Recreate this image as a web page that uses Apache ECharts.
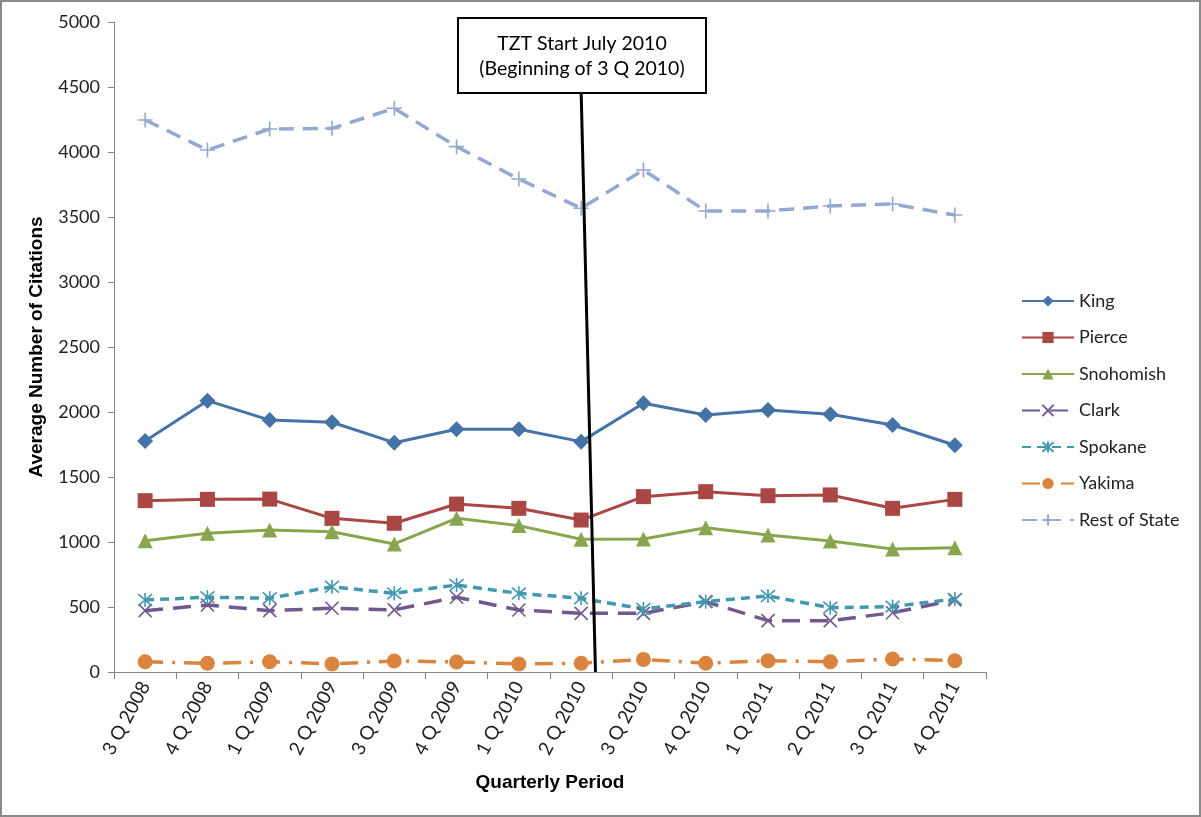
<!DOCTYPE html>
<html>
<head>
<meta charset="utf-8">
<script src="https://cdn.jsdelivr.net/npm/echarts@6/dist/echarts.min.js"></script>
<style>
  html, body { margin: 0; padding: 0; background: #fff; }
  .wrap { position: relative; width: 1201px; height: 817px; }
  #chart { width: 1201px; height: 817px; }
  .frame { position: absolute; left: 0; top: 0; width: 1201px; height: 817px; box-sizing: border-box; border: 2px solid #8a8a8a; pointer-events: none; }
</style>
</head>
<body>
<div class="wrap">
  <div id="chart"></div>
  <div class="frame"></div>
</div>
<script>
const quarters = ['3 Q 2008', '4 Q 2008', '1 Q 2009', '2 Q 2009', '3 Q 2009', '4 Q 2009', '1 Q 2010',
  '2 Q 2010', '3 Q 2010', '4 Q 2010', '1 Q 2011', '2 Q 2011', '3 Q 2011', '4 Q 2011']
const king = [1777, 2087, 1938, 1921, 1764, 1867, 1867, 1772, 2067, 1977, 2015, 1982, 1900, 1744]
const pierce = [1318, 1328, 1330, 1182, 1144, 1292, 1259, 1169, 1349, 1387, 1356, 1362, 1259, 1328]
const snohomish = [1010, 1067, 1092, 1079, 985, 1182, 1126, 1021, 1023, 1110, 1054, 1008, 946, 956]
const clark = [472, 515, 472, 490, 478, 575, 477, 451, 451, 541, 395, 395, 456, 554]
const spokane = [554, 575, 567, 656, 605, 669, 605, 567, 485, 541, 585, 495, 503, 562]
const yakima = [79, 67, 79, 62, 85, 77, 62, 67, 97, 67, 87, 79, 100, 87]
const restOfState = [4246, 4015, 4177, 4182, 4336, 4041, 3792, 3567, 3862, 3546, 3546, 3585, 3600, 3515]
const yTicks = { min: 0, max: 5000, interval: 500 }
// annotation line: from the box down to the axis (x as category index)
const tztLine = [[7, 4462], [7.23, 0]]
const tztText = 'TZT Start July 2010\n(Beginning of 3 Q 2010)'

const font = 'Lato, "Open Sans", sans-serif'
const boldFont = '"Liberation Sans", Arial, sans-serif'
const symX = 'path://M0,0L10,10M10,0L0,10'
const symStar = 'path://M0,0L10,10M10,0L0,10M5,-1L5,11'
const symPlus = 'path://M5,0L5,10M0,5L10,5'

function lineSeries(name, data, color, opts) {
  return Object.assign({
    name: name,
    type: 'line',
    data: data,
    symbolSize: 14,
    color: color,
    lineStyle: { color: color, width: 3 },
    itemStyle: { color: color },
    z: 3
  }, opts)
}

const myChart = echarts.init(document.getElementById('chart'))
myChart.setOption({
  animation: false,
  textStyle: { fontFamily: font },
  grid: { left: 114, right: 215, top: 22, bottom: 145 },
  legend: {
    orient: 'vertical',
    left: 1016,
    top: 287,
    itemWidth: 52,
    itemHeight: 14,
    itemGap: 18.5,
    textStyle: { fontSize: 18, color: '#222', fontFamily: font },
    data: ['King', 'Pierce', 'Snohomish', 'Clark', 'Spokane', 'Yakima', 'Rest of State']
  },
  xAxis: [{
    type: 'category',
    data: quarters,
    boundaryGap: true,
    name: 'Quarterly Period',
    nameLocation: 'middle',
    nameGap: 101,
    nameTextStyle: { fontFamily: boldFont, fontWeight: 'bold', fontSize: 19, color: '#000' },
    axisLine: { lineStyle: { color: '#868686', width: 1 } },
    axisTick: { show: true, length: 7, lineStyle: { color: '#868686' } },
    axisLabel: { rotate: 62, fontSize: 19, color: '#222', margin: 11, interval: 0 },
    splitLine: { show: false }
  }, {
    type: 'value',
    min: -0.5,
    max: 13.5,
    show: false
  }],
  yAxis: {
    type: 'value',
    min: yTicks.min,
    max: yTicks.max,
    interval: yTicks.interval,
    name: 'Average Number of Citations',
    nameLocation: 'middle',
    nameGap: 68,
    nameTextStyle: { fontFamily: boldFont, fontWeight: 'bold', fontSize: 19, color: '#000' },
    axisLine: { show: true, onZero: false, lineStyle: { color: '#868686', width: 1 } },
    axisTick: { show: true, length: 6, lineStyle: { color: '#868686' } },
    axisLabel: { fontSize: 18, color: '#222', margin: 14, formatter: function(v) { return String(v) } },
    splitLine: { show: false }
  },
  series: [
    lineSeries('King', king, '#4572A7', { symbol: 'diamond', symbolSize: 16 }),
    lineSeries('Pierce', pierce, '#AA4643', { symbol: 'rect', symbolSize: 15 }),
    lineSeries('Snohomish', snohomish, '#89A54E', { symbol: 'triangle', symbolSize: 15 }),
    lineSeries('Clark', clark, '#71588F', {
      symbol: symX, symbolSize: 13,
      lineStyle: { color: '#71588F', width: 3.5, type: [18, 10] },
      itemStyle: { color: '#71588F', borderColor: '#71588F', borderWidth: 1.6 }
    }),
    lineSeries('Spokane', spokane, '#4198AF', {
      symbol: symStar, symbolSize: 14,
      lineStyle: { color: '#4198AF', width: 3.5, type: [9, 6] },
      itemStyle: { color: '#4198AF', borderColor: '#4198AF', borderWidth: 1.6 }
    }),
    lineSeries('Yakima', yakima, '#DB843D', {
      symbol: 'circle', symbolSize: 15,
      lineStyle: { color: '#DB843D', width: 3.5, type: [18, 9, 3, 9] }
    }),
    lineSeries('Rest of State', restOfState, '#93A9CF', {
      symbol: symPlus, symbolSize: 15,
      lineStyle: { color: '#93A9CF', width: 3.5, type: [15, 9] },
      itemStyle: { color: '#93A9CF', borderColor: '#93A9CF', borderWidth: 1.6 }
    }),
    {
      name: 'tzt',
      type: 'line',
      xAxisIndex: 1,
      data: tztLine,
      symbol: 'none',
      silent: true,
      lineStyle: { color: '#000', width: 3 },
      z: 5
    }
  ],
  graphic: [{
    type: 'group',
    left: 457,
    top: 17,
    z: 10,
    children: [{
      type: 'rect',
      shape: { x: 0, y: 0, width: 248, height: 75 },
      style: { fill: '#fff', stroke: '#000', lineWidth: 2 }
    }, {
      type: 'text',
      x: 124,
      y: 38,
      style: {
        text: tztText,
        align: 'center',
        verticalAlign: 'middle',
        fontFamily: font,
        fontSize: 19.5,
        lineHeight: 25,
        fill: '#000'
      }
    }]
  }]
})
window.addEventListener('resize', function() {
  myChart.resize()
})
</script>
</body>
</html>
